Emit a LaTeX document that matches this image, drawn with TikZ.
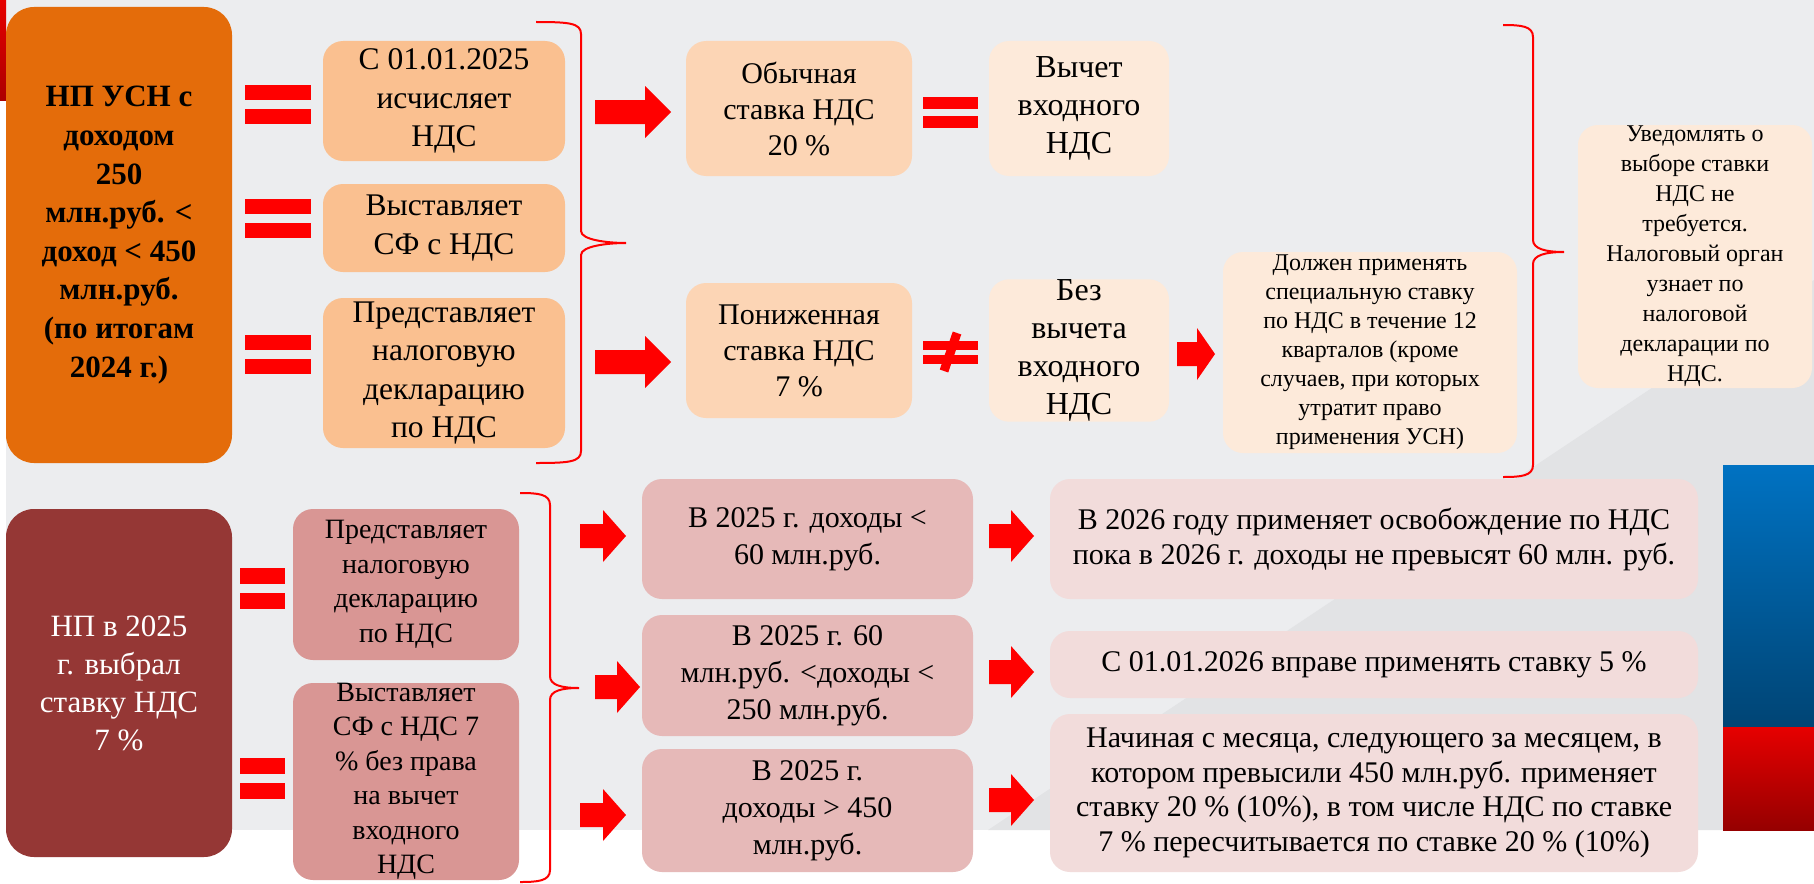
\documentclass[tikz,border=0pt]{standalone}
\usepackage{fontspec}
\setmainfont{Liberation Serif}
\usetikzlibrary{calc}

\definecolor{bggray}{HTML}{ECEDEF}
\definecolor{swoosh}{HTML}{E2E3E5}
\definecolor{arrred}{HTML}{FF0000}
\definecolor{orangeA}{HTML}{E46C0A}
\definecolor{peachA}{HTML}{FAC090}
\definecolor{peachB}{HTML}{FCD5B5}
\definecolor{peachC}{HTML}{FDEADA}
\definecolor{wine}{HTML}{953735}
\definecolor{roseA}{HTML}{D99694}
\definecolor{roseB}{HTML}{E6B9B8}
\definecolor{roseC}{HTML}{F2DCDB}
\definecolor{flagblue}{HTML}{0072C2}
\definecolor{flagred}{HTML}{E60000}

\newcommand\fsz[2]{\fontsize{#1}{#2}\selectfont}

% block arrow from #2 to #3, head length #1
\newcommand\fatarrow[3][26]{%
  \fill[arrred] let \p1=#2, \p2=#3 in
    (\x1,\y1+12pt) -- (\x2-#1pt,\y1+12pt) -- (\x2-#1pt,\y1+26pt) -- (\x2,\y1)
    -- (\x2-#1pt,\y1-26pt) -- (\x2-#1pt,\y1-12pt) -- (\x1,\y1-12pt) -- cycle;}

% red brace: end x, spine x, tip x, top y, tip y, bottom y
\newcommand\redbrace[6]{%
  \draw[brc] (#1,#4) .. controls (#2-12,#4) and (#2,#4+1) .. (#2,#4+12)
    -- (#2,#5-12) .. controls (#2,#5-3) and (#3-18,#5) .. (#3,#5)
    .. controls (#3-18,#5) and (#2,#5+3) .. (#2,#5+12)
    -- (#2,#6-12) .. controls (#2,#6-1) and (#2-12,#6) .. (#1,#6);}

\begin{document}
\begin{tikzpicture}[x=1pt, y=-1pt,
    box/.style={align=center, inner sep=0pt, rounded corners=20pt, text=black},
    bar/.style={fill=arrred},
    brc/.style={draw=arrred, line width=2pt}]

  \useasboundingbox (0,0) rectangle (1814,883);

  % background
  \fill[white] (0,0) rectangle (1814,883);
  \fill[bggray] (6,0) rectangle (1814,830);
  \fill[swoosh] (988,830) -- (1814,280) -- (1814,830) -- cycle;
  \shade[top color=flagred, bottom color=flagred!75!black] (0,0) rectangle (6,100);
  \shade[top color=flagblue, bottom color=flagblue!60!black] (1723,465) rectangle (1814,727);
  \shade[top color=flagred, bottom color=flagred!65!black] (1723,727) rectangle (1814,830);

  % upper part
  \node[box, fill=orangeA, minimum width=226pt, minimum height=456pt, rounded corners=28pt,
    font=\fsz{31}{38.6}\bfseries] (usn) at (119,235)
    {НП УСН с\\доходом\\250\\млн.руб. <\\доход < 450\\млн.руб.\\(по итогам\\2024 г.)};

  \node[box, fill=peachA, minimum width=242pt, minimum height=120pt, font=\fsz{31.5}{38.5}]
    (calc) at (444,101) {С 01.01.2025\\исчисляет\\НДС};
  \node[box, fill=peachA, minimum width=242pt, minimum height=88pt, font=\fsz{31.5}{38.5}]
    (sf) at (444,228) {Выставляет\\СФ с НДС};
  \node[box, fill=peachA, minimum width=242pt, minimum height=150pt, font=\fsz{31.5}{38.5}]
    (decl) at (444,373) {Представляет\\налоговую\\декларацию\\по НДС};

  \node[box, fill=peachB, minimum width=226pt, minimum height=135pt, font=\fsz{30}{36}]
    (usual) at (799,108.5) {Обычная\\ставка НДС\\20 \%};
  \node[box, fill=peachC, minimum width=180pt, minimum height=135pt, font=\fsz{32}{38.2}]
    (ded) at (1079,108.5) {Вычет\\входного\\НДС};
  \node[box, fill=peachB, minimum width=226pt, minimum height=135pt, font=\fsz{30}{36}]
    (low) at (799,350.5) {Пониженная\\ставка НДС\\7 \%};
  \node[box, fill=peachC, minimum width=180pt, minimum height=135pt, font=\fsz{32}{38.2}]
    (noded) at (1079,350.5) {Без\\вычета\\входного\\НДС};
  \node[box, fill=peachC, minimum width=294pt, minimum height=201pt, font=\fsz{24}{29}]
    (must) at (1370,352.5) {Должен применять\\специальную ставку\\по НДС в течение 12\\кварталов (кроме\\случаев, при которых\\утратит право\\применения УСН)};
  \node[box, fill=peachC, minimum width=234pt, minimum height=263pt, font=\fsz{24}{30}]
    (notice) at (1695,256.5) {Уведомлять о\\выборе ставки\\НДС не\\требуется.\\Налоговый орган\\узнает по\\налоговой\\декларации по\\НДС.};

  % equal signs
  \foreach \y in {85,199,335} {
    \fill[bar] (245,\y) rectangle ++(66,15);
    \fill[bar] (245,\y+24) rectangle ++(66,15);
  }
  \fill[bar] (923,97) rectangle (978,109);
  \fill[bar] (923,116) rectangle (978,128);
  \fill[bar] (923,341) rectangle (978,350);
  \fill[bar] (923,355) rectangle (978,364);
  \draw[arrred, line width=9pt] (944,371) -- (957,333);

  % braces
  \redbrace{536}{581}{626}{22}{243}{463}
  \redbrace{1503}{1533}{1564}{25}{252}{477}

  % arrows
  \coordinate (ar1a) at (595,112);  \coordinate (ar1b) at (671,112);
  \coordinate (ar2a) at (595,362);  \coordinate (ar2b) at (671,362);
  \coordinate (ar3a) at (1177,354); \coordinate (ar3b) at (1215,354);
  \fatarrow{(ar1a)}{(ar1b)}
  \fatarrow{(ar2a)}{(ar2b)}
  \fatarrow[18]{(ar3a)}{(ar3b)}

  % lower part
  \node[box, fill=wine, text=white, minimum width=226pt, minimum height=348pt, rounded corners=28pt,
    font=\fsz{31}{38}] (rate7) at (119,683) {НП в 2025\\г. выбрал\\ставку НДС\\7 \%};

  \node[box, fill=roseA, minimum width=226pt, minimum height=151pt, font=\fsz{28}{34.5}]
    (decl2) at (406,584.5) {Представляет\\налоговую\\декларацию\\по НДС};
  \node[box, fill=roseA, minimum width=226pt, minimum height=197pt, font=\fsz{28}{34.5}]
    (sf2) at (406,781.5) {Выставляет\\СФ с НДС 7\\\% без права\\на вычет\\входного\\НДС};

  \foreach \y in {568,758} {
    \fill[bar] (240,\y) rectangle ++(45,15.5);
    \fill[bar] (240,\y+25) rectangle ++(45,15.5);
  }
  \redbrace{520}{550}{579}{493}{688}{882}

  \node[box, fill=roseB, minimum width=331pt, minimum height=120pt, font=\fsz{30}{37}]
    (inc60) at (807.5,539) {В 2025 г. доходы <\\60 млн.руб.};
  \node[box, fill=roseB, minimum width=331pt, minimum height=121pt, font=\fsz{30}{37}]
    (inc250) at (807.5,675.5) {В 2025 г. 60\\млн.руб. <доходы <\\250 млн.руб.};
  \node[box, fill=roseB, minimum width=331pt, minimum height=123pt, font=\fsz{30}{37}]
    (inc450) at (807.5,810.5) {В 2025 г.\\доходы > 450\\млн.руб.};

  \node[box, fill=roseC, minimum width=648pt, minimum height=120pt, font=\fsz{30}{35}]
    (free) at (1374,539) {В 2026 году применяет освобождение по НДС\\пока в 2026 г. доходы не превысят 60 млн. руб.};
  \node[box, fill=roseC, minimum width=648pt, minimum height=67pt, font=\fsz{30}{35}]
    (rate5) at (1374,664.5) {С 01.01.2026 вправе применять ставку 5 \%};
  \node[box, fill=roseC, minimum width=648pt, minimum height=158pt, font=\fsz{30}{34.7}]
    (rate20) at (1374,793) {Начиная с месяца, следующего за месяцем, в\\котором превысили 450 млн.руб. применяет\\ставку 20 \% (10\%), в том числе НДС по ставке\\7 \% пересчитывается по ставке 20 \% (10\%)};

  \coordinate (ar4a) at (580,536);  \coordinate (ar4b) at (626,536);
  \coordinate (ar5a) at (595,687);  \coordinate (ar5b) at (640,687);
  \coordinate (ar6a) at (580,815);  \coordinate (ar6b) at (626,815);
  \coordinate (ar7a) at (989,536);  \coordinate (ar7b) at (1034,536);
  \coordinate (ar8a) at (989,672);  \coordinate (ar8b) at (1034,672);
  \coordinate (ar9a) at (989,800);  \coordinate (ar9b) at (1034,800);
  \foreach \k in {4,...,9} {\fatarrow[23]{(ar\k a)}{(ar\k b)}}

\end{tikzpicture}
\end{document}
